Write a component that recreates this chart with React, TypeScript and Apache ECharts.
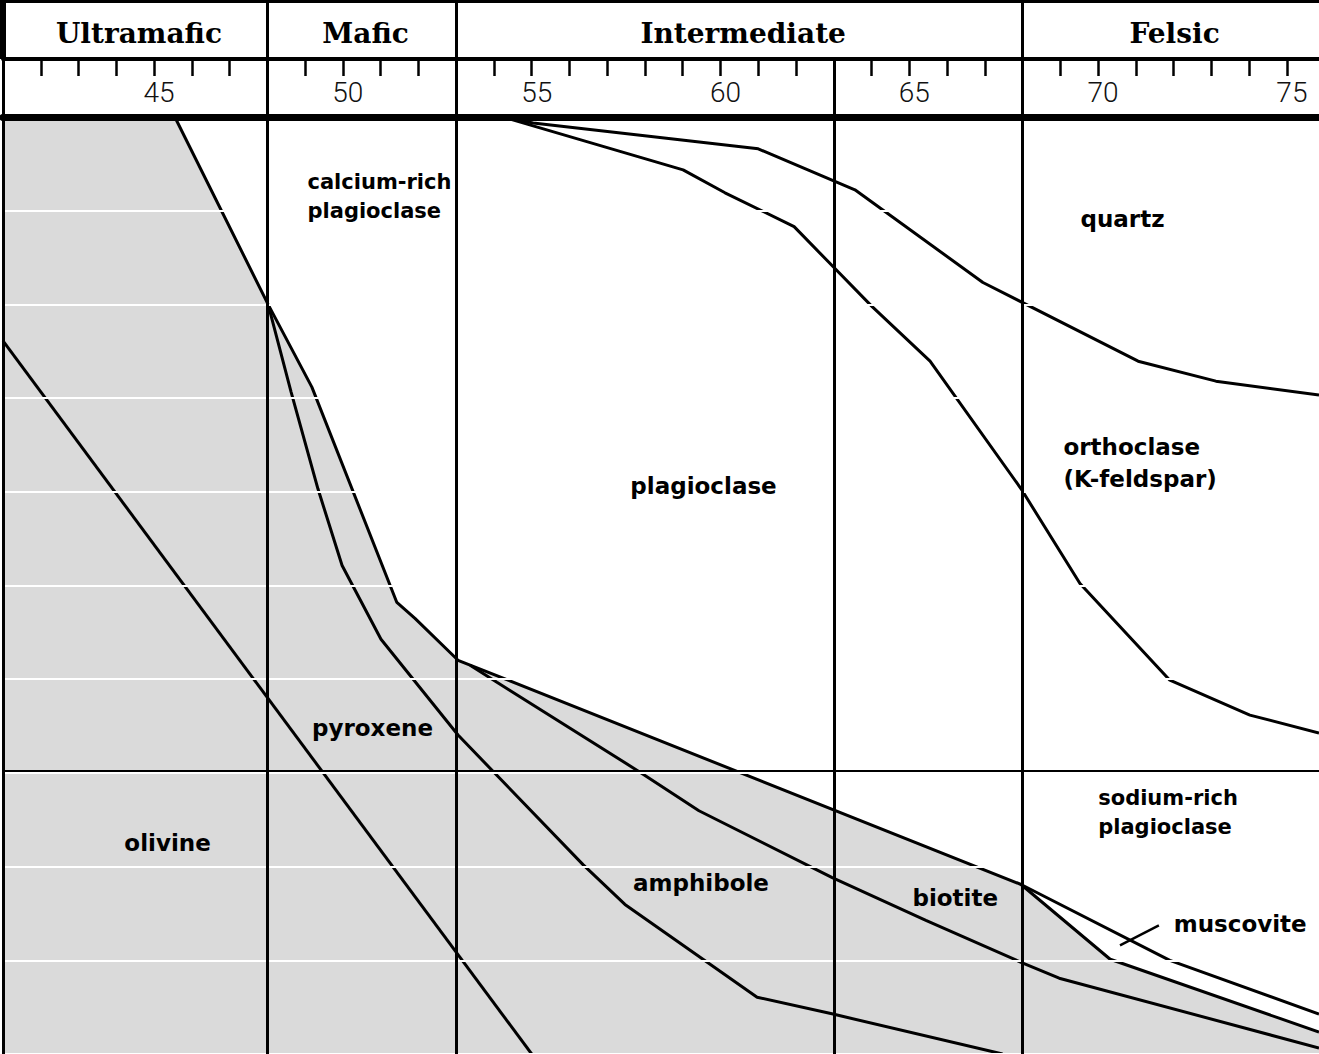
import React, { useEffect, useRef } from "react";
import * as echarts from "echarts";

// SiO2 (wt %) range shown
const X_MIN = 41;
const X_MAX = 75.85;

// Header classes and their SiO2 bounds
const rockClasses = ["Ultramafic", "Mafic", "Intermediate", "Felsic"];
const classBounds = [41, 48, 53, 68, 75.85];
const headerDividers = [48, 53, 68];
const columnDividers = [48, 53, 63, 68];

// Tick marks and tick labels on the SiO2 scale
const tickMarks = [42, 43, 44, 45, 46, 47, 49, 50, 51, 52, 54, 55, 56, 57, 58, 59, 60, 61, 62, 64, 65, 66, 67, 69, 70, 71, 72, 73, 74, 75];
const tickLabels = [45, 50, 55, 60, 65, 70, 75];

// Horizontal guide (volume %)
const guideLevel = 69.8;

// Boundary curves: [SiO2 %, cumulative volume % measured from the top]
const plagMaficBoundary = [
  [45.55, 0], [48.02, 20], [49.18, 28.83], [51.43, 51.81], [51.91, 53.51],
  [53.05, 57.98], [67.96, 81.91], [71.9, 90.0], [75.85, 95.74],
];
const muscoviteLower = [[67.96, 81.91], [70.32, 89.89], [75.85, 97.66]];
const olivinePyroxene = [[41, 23.9], [55.0, 100]];
const pyroxeneAmphibole = [
  [48.02, 20], [48.63, 29.36], [49.34, 39.68], [49.98, 47.87], [51.01, 55.74],
  [53.05, 65.96], [56.36, 79.79], [57.47, 84.04], [60.97, 93.94], [62.98, 95.74], [67.47, 100],
];
const amphiboleBiotite = [
  [53.37, 58.51], [54.08, 60.32], [57.9, 70.0], [59.43, 74.04], [62.96, 81.17],
  [65.44, 85.74], [67.96, 90.21], [68.97, 91.91], [75.85, 99.36],
];
const quartzLower = [
  [54.24, 0], [55.04, 0.64], [61.0, 3.4], [63.56, 7.77], [66.95, 17.66],
  [71.06, 26.06], [73.12, 28.19], [75.85, 29.68],
];
const orthoclaseLower = [
  [54.24, 0], [59.01, 5.64], [60.12, 8.09], [61.95, 11.7], [62.98, 15.96], [64.01, 20.21],
  [65.55, 26.06], [67.96, 39.68], [69.52, 49.79], [71.9, 60.11], [74.02, 63.83], [75.85, 65.74],
];
const muscovitePointer = [[70.58, 88.4], [71.61, 86.28]];

// Mineral field labels: [text, SiO2 anchor, volume % anchor]
const mineralLabels: [string, number, number][] = [
  ["calcium-rich\nplagioclase", 49.05, 8.46],
  ["quartz", 69.52, 10.85],
  ["orthoclase\n(K-feldspar)", 69.07, 36.9],
  ["plagioclase", 57.6, 39.36],
  ["pyroxene", 49.17, 65.2],
  ["olivine", 44.2, 77.45],
  ["amphibole", 57.67, 81.7],
  ["biotite", 65.07, 83.4],
  ["sodium-rich\nplagioclase", 69.99, 74.26],
  ["muscovite", 71.99, 86.17],
];
const smallLabels = ["calcium-rich\nplagioclase", "sodium-rich\nplagioclase"];

export default function App() {
  const ref = useRef<HTMLDivElement>(null);

  useEffect(() => {
    document.body.style.margin = "0";
    if (!ref.current) return;
    const chart = echarts.init(ref.current, undefined, { renderer: "svg" });

    const fillIdx = plagMaficBoundary.findIndex((p) => p[0] === muscoviteLower[0][0]);
    const maficFill = [[X_MIN, 0], ...plagMaficBoundary.slice(0, fillIdx + 1), ...muscoviteLower.slice(1)];

    const curve = (data: number[][], width = 3) => ({
      type: "line",
      xAxisIndex: 0,
      yAxisIndex: 0,
      data,
      z: 2,
      silent: true,
      symbol: "none",
      showSymbol: false,
      lineStyle: { color: "#000", width },
    });

    const segs = (xIdx: number, yIdx: number, data: any[], width: number, z = 4) => ({
      type: "lines",
      coordinateSystem: "cartesian2d",
      xAxisIndex: xIdx,
      yAxisIndex: yIdx,
      clip: false,
      silent: true,
      z,
      lineStyle: { color: "#000", width, opacity: 1, curveness: 0 },
      data,
    });

    const option: any = {
      animation: false,
      backgroundColor: "#ffffff",
      grid: [
        { left: 3, right: 0, top: 117, bottom: -3 },
        { left: 3, right: 0, top: 0, height: 59 },
        { left: 3, right: 0, top: 59, height: 58 },
      ],
      xAxis: [
        {
          gridIndex: 0, type: "value", min: X_MIN, max: X_MAX, position: "top", z: 5,
          axisLine: { show: true, onZero: false, lineStyle: { color: "#000", width: 7 } },
          axisTick: { show: false }, axisLabel: { show: false }, splitLine: { show: false },
        },
        { gridIndex: 1, type: "value", min: X_MIN, max: X_MAX, show: false },
        {
          gridIndex: 2, type: "value", min: X_MIN, max: X_MAX, position: "top", z: 5,
          axisLine: { show: true, onZero: false, lineStyle: { color: "#000", width: 4 } },
          axisTick: { show: true, inside: true, length: 17, customValues: tickMarks, lineStyle: { color: "#000", width: 2.5 } },
          axisLabel: {
            show: true, inside: true, margin: 19, customValues: tickLabels,
            formatter: (v: number) => String(v),
            fontFamily: "Roboto", fontWeight: 300, fontSize: 28, color: "#111",
            padding: [0, 0, 0, 10],
          },
          splitLine: { show: false },
        },
      ],
      yAxis: [
        {
          gridIndex: 0, type: "value", min: 0, max: 100, interval: 10, inverse: true, z: 3,
          axisLine: { show: false }, axisTick: { show: false }, axisLabel: { show: false },
          splitLine: { show: true, lineStyle: { color: "#ffffff", width: 2 } },
        },
        { gridIndex: 1, type: "value", min: 0, max: 59, inverse: true, show: false },
        { gridIndex: 2, type: "value", min: 0, max: 58, inverse: true, show: false },
      ],
      series: [
        {
          type: "line", xAxisIndex: 0, yAxisIndex: 0, data: maficFill, z: 1, silent: true,
          symbol: "none", showSymbol: false,
          lineStyle: { width: 0, opacity: 0 },
          areaStyle: { color: "#dadada", opacity: 1, origin: "end" },
        },
        curve(plagMaficBoundary),
        curve(muscoviteLower),
        curve(olivinePyroxene),
        curve(pyroxeneAmphibole),
        curve(amphiboleBiotite),
        curve(quartzLower),
        curve(orthoclaseLower),
        curve(muscovitePointer, 2.4),
        segs(0, 0, columnDividers.map((x) => ({ coords: [[x, 0], [x, 100]] })), 3),
        segs(0, 0, [{ coords: [[X_MIN, guideLevel], [X_MAX, guideLevel]] }], 2),
        segs(0, 0, [{ coords: [[X_MIN, 0], [X_MIN, 100]] }], 3, 6),
        segs(1, 1, headerDividers.map((x) => ({ coords: [[x, 0], [x, 59]] })), 3),
        segs(1, 1, [{ coords: [[X_MIN, 0], [X_MIN, 59]] }, { coords: [[X_MIN, 0], [X_MAX, 0]] }], 6, 6),
        segs(2, 2, columnDividers.map((x) => ({ coords: [[x, 0], [x, 58]] })), 3),
        segs(2, 2, [{ coords: [[X_MIN, 0], [X_MIN, 58]] }], 3, 6),
        {
          type: "scatter", xAxisIndex: 1, yAxisIndex: 1, z: 6, silent: true,
          symbolSize: 1, itemStyle: { color: "rgba(0,0,0,0)", opacity: 1 },
          data: rockClasses.map((name, i) => ({
            name,
            value: [(classBounds[i] + classBounds[i + 1]) / 2 + 0.1, 33.6],
          })),
          label: {
            show: true, position: "inside", formatter: "{b}",
            fontFamily: "DejaVu Serif", fontWeight: "bold", fontSize: 28, color: "#000",
          },
        },
        {
          type: "scatter", xAxisIndex: 0, yAxisIndex: 0, z: 6, silent: true,
          symbolSize: 1, itemStyle: { color: "rgba(0,0,0,0)", opacity: 1 },
          data: mineralLabels.map(([name, x, y]) => {
            const small = smallLabels.includes(name);
            return {
              name,
              value: [x, y],
              label: { fontSize: small ? 21 : 23, lineHeight: small ? 29 : 32 },
            };
          }),
          label: {
            show: true, position: "right", distance: 0, formatter: "{b}", align: "left",
            fontFamily: "DejaVu Sans", fontWeight: "bold", color: "#000",
          },
        },
      ],
    };

    chart.setOption(option);
    return () => chart.dispose();
  }, []);

  return <div ref={ref} style={{ width: 1319, height: 1054 }} />;
}
